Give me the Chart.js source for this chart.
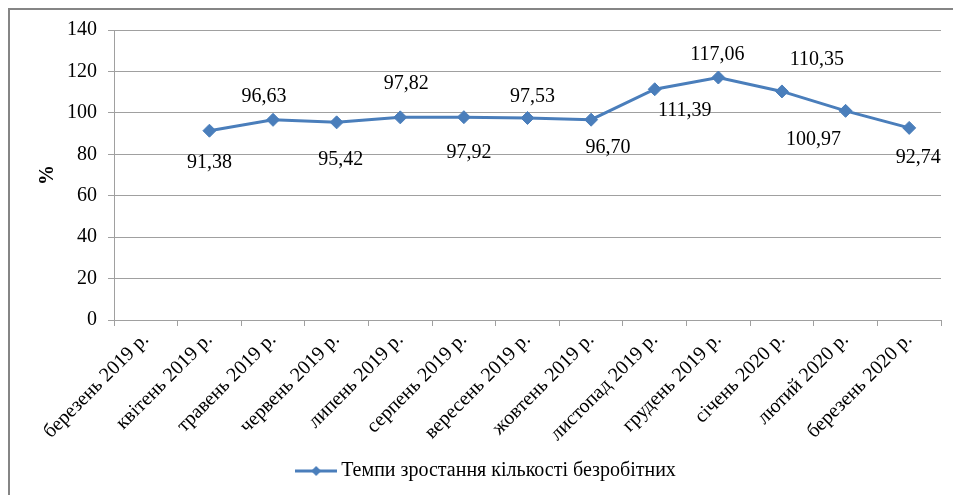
<!DOCTYPE html>
<html>
<head>
<meta charset="utf-8">
<script src="https://cdn.jsdelivr.net/npm/chart.js@4/dist/chart.umd.min.js"></script>
<style>
  html, body { margin: 0; padding: 0; background: #fff; overflow: hidden; }
  #frame {
    position: absolute; left: 8px; top: 8px;
    width: 1000px; height: 600px;
    border: 2px solid #858585;
  }
  #growthChart { position: absolute; left: 0; top: 0; }
</style>
</head>
<body>
<div id="frame"></div>
<canvas id="growthChart" width="953" height="495"></canvas>
<script>
/* ---- data ---- */
const categories = [
    "березень 2019 р.", "квітень 2019 р.", "травень 2019 р.", "червень 2019 р.",
    "липень 2019 р.", "серпень 2019 р.", "вересень 2019 р.", "жовтень 2019 р.",
    "листопад 2019 р.", "грудень 2019 р.", "січень 2020 р.", "лютий 2020 р.",
    "березень 2020 р."
];
const growthRates = [null, 91.38, 96.63, 95.42, 97.82, 97.92, 97.53, 96.70,
                     111.39, 117.06, 110.35, 100.97, 92.74];
const yTickValues = [0, 20, 40, 60, 80, 100, 120, 140];
const seriesName = "Темпи зростання кількості безробітних";

/* where each value label sits relative to its point (dx, dy in px) */
const labelOffsets = [[0, 0], [0, 32], [-9, -23], [4, 37], [6, -34], [5, 36],
                      [5, -21], [17, 28], [30, 21], [-1, -23], [35, -32], [-32, 29], [9, 30]];

const serif = "'Liberation Serif', 'Times New Roman', serif";
const blue = "#4a7ebb";
const gridGray = "#a0a0a0";

/* legend symbol: short line with a diamond */
function legendSymbol() {
    const c = document.createElement("canvas");
    c.width = 42; c.height = 14;
    const g = c.getContext("2d");
    g.strokeStyle = blue; g.lineWidth = 3;
    g.beginPath(); g.moveTo(0, 7); g.lineTo(42, 7); g.stroke();
    g.fillStyle = blue;
    g.beginPath(); g.moveTo(21, 2); g.lineTo(26, 7); g.lineTo(21, 12); g.lineTo(16, 7); g.closePath(); g.fill();
    return c;
}

/* value labels, comma decimals */
const valueLabels = {
    id: "valueLabels",
    afterDatasetsDraw(chart) {
        const ctx = chart.ctx;
        const meta = chart.getDatasetMeta(0);
        ctx.save();
        ctx.font = "20px " + serif;
        ctx.fillStyle = "#000";
        ctx.textAlign = "center";
        ctx.textBaseline = "middle";
        meta.data.forEach((pt, i) => {
            const v = growthRates[i];
            if (v === null) return;
            const off = labelOffsets[i];
            ctx.fillText(v.toFixed(2).replace(".", ","), pt.x + off[0], pt.y + off[1]);
        });
        ctx.restore();
    }
};

new Chart(document.getElementById("growthChart"), {
    type: "line",
    data: {
        labels: categories,
        datasets: [{
            label: seriesName,
            data: growthRates,
            borderColor: blue,
            backgroundColor: blue,
            borderWidth: 3,
            tension: 0,
            pointStyle: "rectRot",
            pointRadius: 6.5,
            pointBorderWidth: 1,
            pointBackgroundColor: blue,
            pointBorderColor: blue
        }]
    },
    options: {
        responsive: false,
        animation: false,
        layout: { padding: { left: 36, right: 12, top: 30, bottom: 4 } },
        plugins: {
            tooltip: { enabled: false },
            legend: {
                position: "bottom",
                labels: {
                    usePointStyle: true,
                    pointStyle: legendSymbol(),
                    pointStyleWidth: 30,
                    color: "#000",
                    font: { family: serif, size: 20 }
                }
            }
        },
        scales: {
            x: {
                offset: true,
                grid: { offset: true, drawOnChartArea: false, tickLength: 6, color: gridGray },
                border: { color: gridGray },
                ticks: {
                    autoSkip: false, minRotation: 45, maxRotation: 45, padding: 2,
                    color: "#000", font: { family: serif, size: 20 }
                },
                afterFit: s => { s.height = 131; }
            },
            y: {
                min: 0, max: 140,
                afterBuildTicks: s => { s.ticks = yTickValues.map(v => ({ value: v })); },
                grid: { color: gridGray, tickLength: 6 },
                border: { color: gridGray },
                ticks: { padding: 11, color: "#000", font: { family: serif, size: 20 } },
                title: {
                    display: true, text: "%", color: "#000",
                    font: { family: serif, size: 20, weight: "bold" },
                    padding: { top: 0, bottom: 0 }
                },
                afterFit: s => { s.width = 78; }
            }
        }
    },
    plugins: [valueLabels]
});
</script>
</body>
</html>
